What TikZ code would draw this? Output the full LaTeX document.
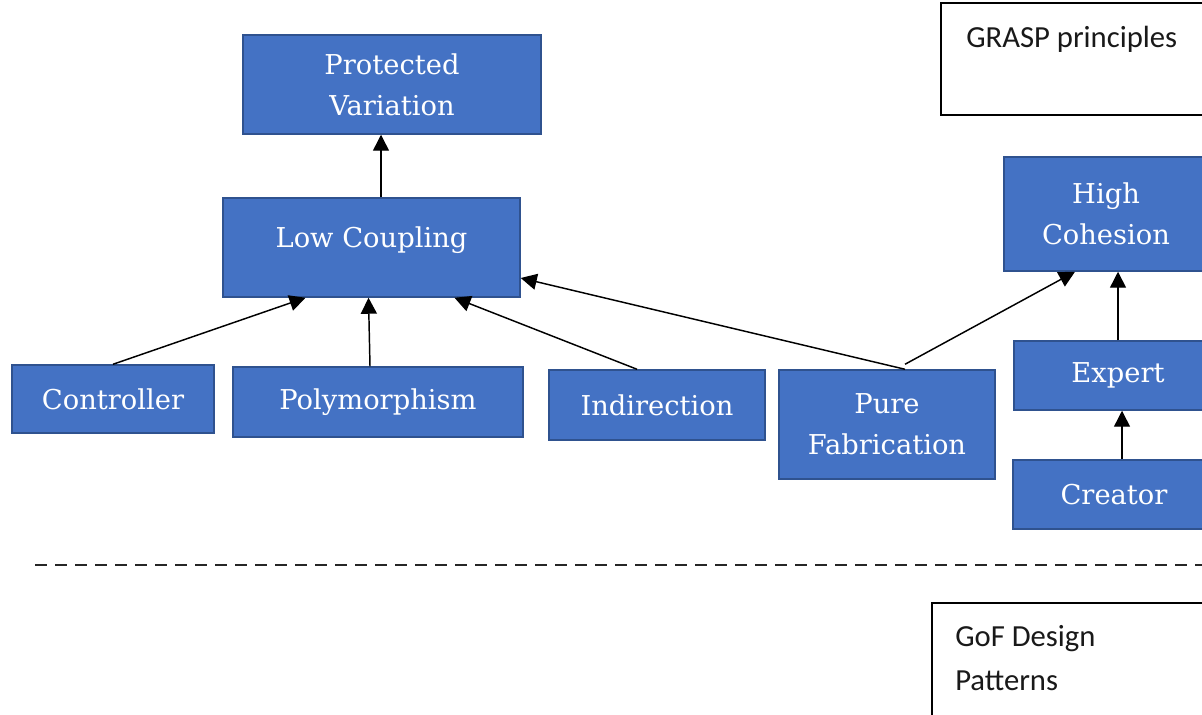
\documentclass[tikz,border=0pt]{standalone}
\usepackage{fontspec}
\newfontfamily\boxfont{DejaVu Serif}
\newfontfamily\lblfont{Carlito}
\usetikzlibrary{arrows.meta,calc}
\definecolor{boxfill}{HTML}{4472C4}
\definecolor{boxline}{HTML}{2F528F}
\tikzset{
  gbox/.style={draw=boxline, line width=1.1pt, fill=boxfill, text=white,
    font=\boxfont\fontsize{20.5}{30.75}\selectfont, align=center, inner sep=0pt},
  conn/.style={draw=black, line width=1.1pt, -{Triangle[length=12pt,width=12pt]}},
  lblbox/.style={draw=black, line width=2pt, fill=white},
  lbltext/.style={font=\lblfont\fontsize{23}{33}\selectfont, text=black!90, align=left, inner sep=0pt}
}
\begin{document}
\begin{tikzpicture}[x=0.75pt,y=-0.75pt]
\useasboundingbox (0,0) rectangle (1202,714);
\clip (0,0) rectangle (1202,714);
\fill[white] (0,0) rectangle (1202,714);

% label boxes
\draw[lblbox] (941,3) rectangle (1230,115);
\node[lbltext, anchor=base west] (grasp) at (966,47) {GRASP principles};
\draw[lblbox] (932,603) rectangle (1230,740);
\node[lbltext, anchor=base west] (gof) at (955,690) {GoF Design\\Patterns};

% dashed separator
\coordinate (dl) at (35,565);
\coordinate (dr) at (1202,565);
\draw[line width=2.2pt, black!85, dash pattern=on 9pt off 6pt] (dl) -- (dr);

% boxes
\node[gbox, minimum width=223.5pt, minimum height=74.25pt] (pv) at (392,84.5) {Protected\\Variation};
\node[gbox, minimum width=222.75pt, minimum height=74.25pt] (lc) at (371.5,247.5) {\raisebox{16pt}{Low Coupling}};
\node[gbox, minimum width=151.5pt, minimum height=51pt] (ctrl) at (113,399) {Controller};
\node[gbox, minimum width=217.5pt, minimum height=52.5pt] (poly) at (378,402) {Polymorphism};
\node[gbox, minimum width=162pt, minimum height=52.5pt] (ind) at (657,405) {Indirection};
\node[gbox, minimum width=162pt, minimum height=81.75pt] (pf) at (887,424.5) {Pure\\Fabrication};
\node[gbox, minimum width=153pt, minimum height=85.5pt] (hc) at (1106,214) {High\\Cohesion};
\node[gbox, minimum width=156pt, minimum height=51.75pt] (ex) at (1118,375.5) {Expert};
\node[gbox, minimum width=151.5pt, minimum height=51.75pt] (cr) at (1114,494.5) {Creator};

% connectors
\draw[conn] ($(lc.north)+(9.5,0)$) -- ($(pv.south)+(-11,0)$);
\draw[conn] (ctrl.north) -- ($(lc.south)+(-66,0)$);
\draw[conn] ($(poly.north)+(-8,0)$) -- ($(lc.south)+(-3,0)$);
\draw[conn] ($(ind.north)+(-20,0)$) -- ($(lc.south)+(83,0)$);
\draw[conn] ($(pf.north)+(18,0)$) -- ($(lc.east)+(0,30.5)$);
\draw[conn] ($(pf.north)+(18,-5)$) -- ($(hc.south)+(-31,0)$);
\draw[conn] (ex.north) -- ($(hc.south)+(12,0)$);
\draw[conn] ($(cr.north)+(8,0)$) -- ($(ex.south)+(4,0)$);
\end{tikzpicture}
\end{document}
